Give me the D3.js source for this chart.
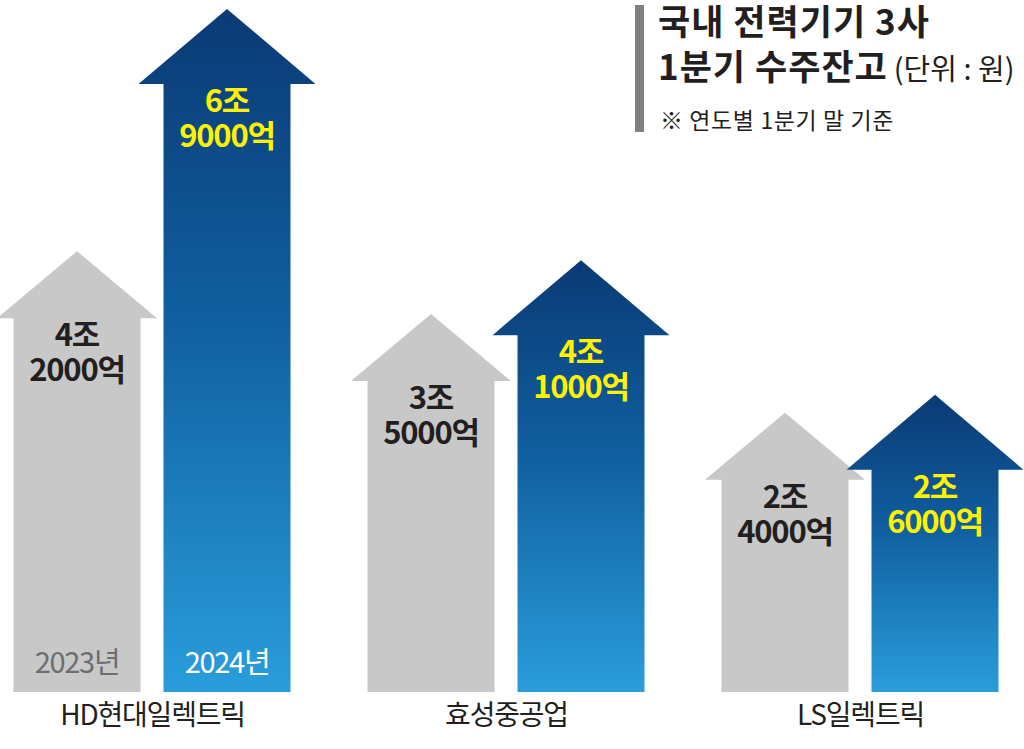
<!DOCTYPE html>
<html>
<head>
<meta charset="utf-8">
<script src="https://cdn.jsdelivr.net/npm/d3@7"></script>
<style>
  body { margin: 0; background: #fff; }
  svg { display: block; font-family: "Noto Sans CJK KR", "Noto Sans", sans-serif; }
</style>
</head>
<body>
<div class="chart"></div>
<script>
const companies = ["HD현대일렉트릭", "효성중공업", "LS일렉트릭"];
const years = ["2023년", "2024년"];
const values2023 = [4.2, 3.5, 2.4];   // 조 원
const values2024 = [6.9, 4.1, 2.6];
const titleLines = ["국내 전력기기 3사", "1분기 수주잔고"];
const unitLabel = "(단위 : 원)";
const noteLabel = "※ 연도별 1분기 말 기준";

function splitWon(v) {
  const jo = Math.floor(v);
  const eok = Math.round((v - jo) * 10) * 1000;
  return [jo + "조", eok + "억"];
}

const width = 1024, height = 749;
const baseY = 692;

const svg = d3.select(".chart")
  .append("svg")
  .attr("width", width)
  .attr("height", height);

const x = d3.scalePoint()
  .domain(companies)
  .range([152, 860]);

const xYear = d3.scalePoint()
  .domain(years)
  .range([-75, 75]);

const y = d3.scaleLinear()
  .domain([0, 7])
  .range([628, 0]);

const data = [];
companies.forEach((c, i) => {
  data.push({ company: c, year: years[0], value: values2023[i], idx: i });
  data.push({ company: c, year: years[1], value: values2024[i], idx: i });
});

const shaftHalf = 63.5;
const style = {
  "2023년": { headHalf: 80, headH: 67, text: "#231f20", yearColor: "#6d6e71" },
  "2024년": { headHalf: 88.5, headH: 75, text: "#fff200", yearColor: "#ffffff" }
};

// gradient for each 2024 arrow
const defs = svg.append("defs");
companies.forEach((c, i) => {
  const g = defs.append("linearGradient")
    .attr("id", "blue" + i)
    .attr("x1", 0).attr("y1", 0).attr("x2", 0).attr("y2", 1);
  g.append("stop").attr("offset", "0").attr("stop-color", "#0a3a75");
  g.append("stop").attr("offset", "0.45").attr("stop-color", "#105f9f");
  g.append("stop").attr("offset", "1").attr("stop-color", "#2a9ddb");
});

function arrowPath(d) {
  const s = style[d.year];
  const cx = x(d.company) + xYear(d.year);
  const tip = y(d.value);
  const shoulder = tip + s.headH;
  const p = d3.path();
  p.moveTo(cx, tip);
  p.lineTo(cx + s.headHalf, shoulder);
  p.lineTo(cx + shaftHalf, shoulder);
  p.lineTo(cx + shaftHalf, baseY);
  p.lineTo(cx - shaftHalf, baseY);
  p.lineTo(cx - shaftHalf, shoulder);
  p.lineTo(cx - s.headHalf, shoulder);
  p.closePath();
  return p.toString();
}

const arrows = svg.selectAll("g.arrow")
  .data(data)
  .enter()
  .append("g")
  .attr("class", "arrow");

arrows.append("path")
  .attr("d", arrowPath)
  .attr("fill", d => d.year === years[0] ? "#c8c8c9" : `url(#blue${d.idx})`);

// value labels inside arrows
arrows.each(function (d) {
  const s = style[d.year];
  const cx = x(d.company) + xYear(d.year);
  const shoulder = y(d.value) + s.headH;
  const lines = splitWon(d.value);
  const t = d3.select(this).append("text")
    .attr("text-anchor", "middle")
    .attr("fill", s.text)
    .attr("font-size", 31)
    .attr("font-weight", 700)
    .attr("letter-spacing", -1.2);
  lines.forEach((l, k) => {
    t.append("tspan")
      .attr("x", cx)
      .attr("y", shoulder + 28 + k * 35)
      .text(l);
  });
});

// year labels on the first group
svg.selectAll("text.year")
  .data(years)
  .enter()
  .append("text")
  .attr("class", "year")
  .attr("x", d => x(companies[0]) + xYear(d))
  .attr("y", 673)
  .attr("text-anchor", "middle")
  .attr("font-size", 29)
  .attr("letter-spacing", -1.3)
  .attr("fill", d => style[d].yearColor)
  .text(d => d);

// category axis
const xAxis = svg.append("g")
  .attr("class", "x-axis")
  .attr("transform", `translate(0, ${baseY})`)
  .call(d3.axisBottom(x).tickSize(0).tickPadding(13));
xAxis.select(".domain").remove();
xAxis.selectAll("text")
  .attr("font-family", "\"Noto Sans CJK KR\", sans-serif")
  .attr("font-size", 28)
  .attr("letter-spacing", -1.2)
  .attr("fill", "#231f20");

// title block
svg.append("rect")
  .attr("x", 635)
  .attr("y", 5)
  .attr("width", 9)
  .attr("height", 127)
  .attr("fill", "#808080");

const title = svg.append("text")
  .attr("x", 658)
  .attr("fill", "#231f20")
  .attr("font-weight", 700)
  .attr("font-size", 35)
  .attr("letter-spacing", 1);
title.append("tspan").attr("x", 658).attr("y", 35).text(titleLines[0]);
title.append("tspan").attr("x", 658).attr("y", 80).text(titleLines[1]);
title.append("tspan")
  .attr("dx", 6)
  .attr("font-weight", 400)
  .attr("font-size", 29)
  .attr("letter-spacing", 0)
  .text(unitLabel);

svg.append("text")
  .attr("x", 660)
  .attr("y", 129)
  .attr("fill", "#231f20")
  .attr("font-size", 23)
  .attr("letter-spacing", 0.6)
  .text(noteLabel);
</script>
</body>
</html>
